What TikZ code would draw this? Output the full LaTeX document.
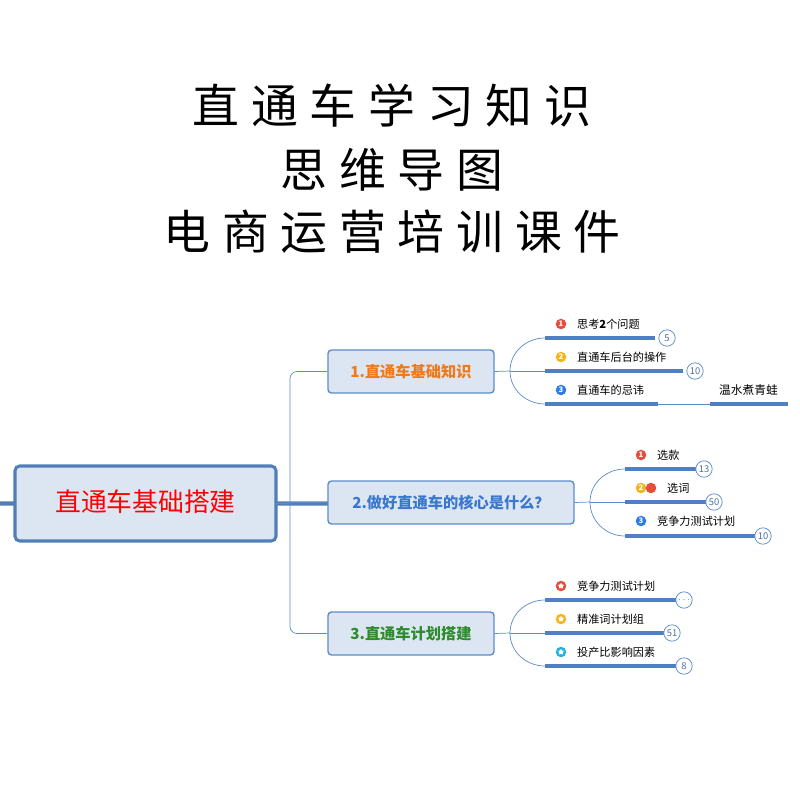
\documentclass[tikz,border=0pt]{standalone}
\usepackage{fontspec}
\setmainfont{Noto Sans CJK SC}
\usetikzlibrary{shapes.geometric}
\definecolor{bfill}{HTML}{DCE6F2}
\definecolor{bline}{HTML}{5B8CCB}
\definecolor{bbar}{HTML}{4F7FC4}
\definecolor{ired}{HTML}{E84C3D}
\definecolor{iora}{HTML}{F5B41B}
\definecolor{iblu}{HTML}{2D7BE5}
\definecolor{icya}{HTML}{1FB3E3}
\definecolor{tor}{HTML}{F07A1A}
\definecolor{tbl}{HTML}{3A78D0}
\definecolor{tgr}{HTML}{2E8B2E}
\tikzset{
 mainbox/.style={draw=bline,line width=1.2pt,fill=bfill,rounded corners=3pt,font=\fontsize{13}{15}\selectfont\bfseries,inner sep=0pt},
 conn/.style={bline,line width=0.6pt},
 bar/.style={bbar,line width=2.6pt},
 lab/.style={anchor=west,font=\fontsize{9.5}{11}\selectfont,inner sep=0pt},
 cnt/.style={circle,draw=bline,fill=white,line width=0.6pt,minimum size=14pt,inner sep=0pt,text=bline!80!black,font=\fontsize{8}{9}\selectfont},
 icon/.style={circle,fill=#1,minimum size=9pt,inner sep=0pt,text=white,font=\fontsize{6.5}{7}\selectfont\bfseries},
 sicon/.style={circle,fill=#1,minimum size=9pt,inner sep=0pt},
}
\newcommand{\wstar}[1]{\node[star,star points=5,fill=white,minimum size=5pt,inner sep=0pt] at (#1) {};}
\begin{document}
\begin{tikzpicture}[x=0.03cm,y=-0.03cm]
\useasboundingbox (0,0) rectangle (800,800);
\node[font=\fontsize{40}{44}\selectfont\addfontfeature{LetterSpace=25}] (t1) at (392,105) {直通车学习知识};
\node[font=\fontsize{40}{44}\selectfont\addfontfeature{LetterSpace=25}] (t2) at (392,170) {思维导图};
\node[font=\fontsize{40}{44}\selectfont\addfontfeature{LetterSpace=25}] (t3) at (392,232) {电商运营培训课件};

\node[draw=bline!90!black,line width=2.6pt,fill=bfill,rounded corners=4pt,minimum width=263\pgflinewidth,inner sep=0pt,text=red,font=\fontsize{22}{26}\selectfont] (root) at (145.5,503.5) {};
\draw[bline!90!black,line width=2.6pt,fill=bfill,rounded corners=4pt] (15,466) rectangle (276,541);
\node[text=red,font=\fontsize{22}{26}\selectfont] (rt) at (145.5,502) {直通车基础搭建};

\node[mainbox,text=tor,minimum width=166*0.03cm,minimum height=43*0.03cm] (m1) at (411,371.5) {1.直通车基础知识};
\node[mainbox,text=tbl,minimum width=246*0.03cm,minimum height=43*0.03cm] (m2) at (451,502.5) {2.做好直通车的核心是什么？};
\node[mainbox,text=tgr,minimum width=166*0.03cm,minimum height=43*0.03cm] (m3) at (411,633.5) {3.直通车计划搭建};

\coordinate (rj) at (276,503);
\draw[conn] (rj) -- (290,503);
\draw[conn,rounded corners=6pt] (m1.west) -- (290,371.5) -- (290,633.5) -- (m3.west);
\draw[conn] (290,502.5) -- (m2.west);

% branch 1
\coordinate (j1) at (510,371);
\draw[conn] (m1.east) -- (j1);
\draw[conn] (j1) to[out=90,in=180] (545,338);
\draw[conn] (j1) -- (545,371);
\draw[conn] (j1) to[out=-90,in=180] (545,404);
\draw[bar] (545,338) -- (655,338);
\draw[bar] (545,371) -- (683,371);
\draw[bar] (545,404) -- (658,404);
\draw[conn] (658,404) -- (710,404);
\draw[bar] (710,404) -- (788,404);
\node[cnt] (c11) at (667,338) {5};
\node[cnt] (c12) at (695,371) {10};
\node[icon=ired] (i11) at (561,324) {1};
\node[icon=iora] (i12) at (561,357) {2};
\node[icon=iblu] (i13) at (561,390) {3};
\node[lab] (l11) at (577,324) {思考\textbf{2}个问题};
\node[lab] (l12) at (577,357) {直通车后台的操作};
\node[lab] (l13) at (577,390) {直通车的忌讳};
\node[lab,font=\fontsize{10}{12}\selectfont] (l14) at (719,390) {温水煮青蛙};

% branch 2
\coordinate (j2) at (590,502);
\draw[conn] (m2.east) -- (j2);
\draw[conn] (j2) to[out=90,in=180] (625,469);
\draw[conn] (j2) -- (625,502);
\draw[conn] (j2) to[out=-90,in=180] (625,536);
\draw[bar] (625,469) -- (697,469);
\draw[bar] (625,502) -- (707,502);
\draw[bar] (625,536) -- (756,536);
\node[cnt] (c21) at (704,469) {13};
\node[cnt] (c22) at (714,502) {50};
\node[cnt] (c23) at (763,536) {10};
\node[icon=ired] (i21) at (641,455) {1};
\node[icon=iora] (i22) at (641,488) {2};
\node[sicon=ired] (i22b) at (651,488) {};
\node[lab] (l21) at (657,455) {选款};
\node[lab] (l22) at (667,488) {选词};
\node[icon=iblu] (i23) at (641,521) {3};
\node[lab] (l23) at (657,521) {竞争力测试计划};

% branch 3
\coordinate (j3) at (510,633);
\draw[conn] (m3.east) -- (j3);
\draw[conn] (j3) to[out=90,in=180] (545,600);
\draw[conn] (j3) -- (545,633);
\draw[conn] (j3) to[out=-90,in=180] (545,666);
\draw[bar] (545,600) -- (677,600);
\draw[bar] (545,633) -- (665,633);
\draw[bar] (545,666) -- (677,666);
\node[cnt] (c31) at (684,600) {$\cdots$};
\node[cnt] (c32) at (672,633) {51};
\node[cnt] (c33) at (684,666) {8};
\node[sicon=ired] (i31) at (561,586) {}; \wstar{i31}
\node[sicon=iora] (i32) at (561,619) {}; \wstar{i32}
\node[sicon=icya] (i33) at (561,652) {}; \wstar{i33}
\node[lab] (l31) at (577,586) {竞争力测试计划};
\node[lab] (l32) at (577,619) {精准词计划组};
\node[lab] (l33) at (577,652) {投产比影响因素};
\end{tikzpicture}
\end{document}
